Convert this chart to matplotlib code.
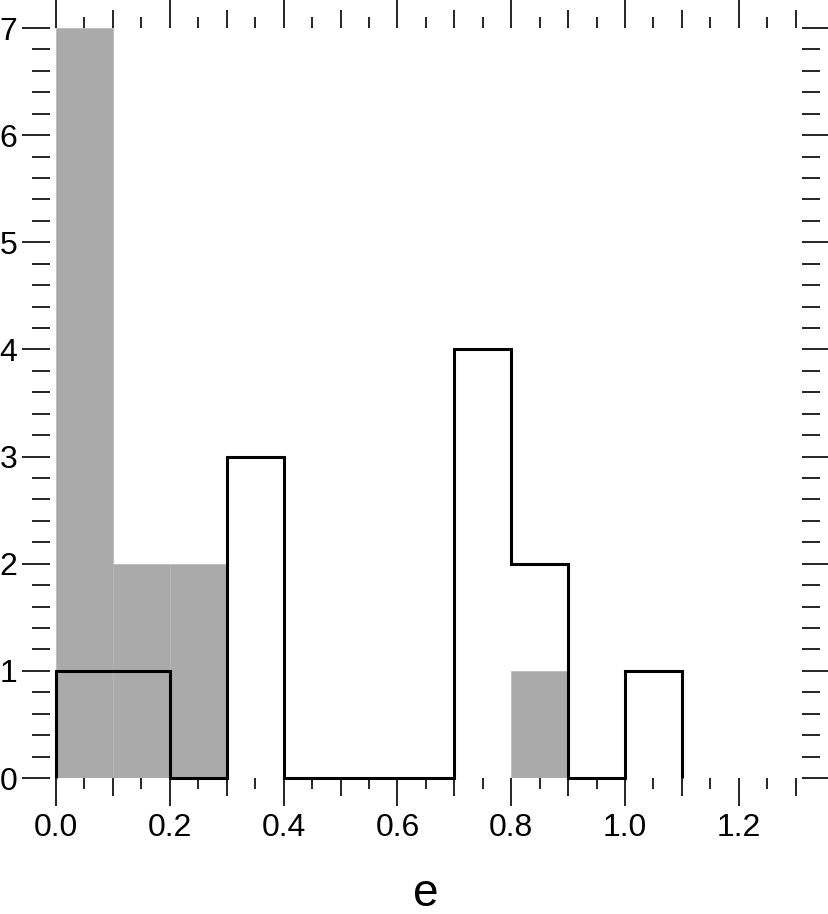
import numpy as np
import matplotlib
matplotlib.use("Agg")
import matplotlib.pyplot as plt
from matplotlib.ticker import MultipleLocator, FixedLocator

plt.rcParams["font.family"] = ["Liberation Sans", "DejaVu Sans"]

# histogram of eccentricity, bins of 0.1
bin_edges = np.round(np.arange(0.0, 1.11, 0.1), 2)
counts_filled = [7, 2, 2, 0, 0, 0, 0, 0, 1, 0, 0]    # grey bars
counts_outline = [1, 1, 0, 3, 0, 0, 0, 4, 2, 0, 1]   # black step outline

fig = plt.figure(figsize=(8.29, 9.14), dpi=100)
ax = fig.add_axes([50 / 829, 1 - 778 / 914, 752 / 829, 750 / 914])

ax.bar(bin_edges[:-1], counts_filled, width=0.1, align="edge",
       color="#aaaaaa", edgecolor="#b5b5b5", linewidth=0.5, zorder=1)
ax.stairs(counts_outline, bin_edges, baseline=0, color="black",
          linewidth=2.2, zorder=3, clip_on=False)

ax.set_xlim(-0.0105, 1.311)
ax.set_ylim(0, 7)

for s in ax.spines.values():
    s.set_visible(False)

# x ticks: long at 0.2, medium at 0.1, short at 0.05 (bottom and top)
xmajor = np.round(np.arange(0.0, 1.31, 0.1), 2)
xminor = np.round(np.arange(0.05, 1.31, 0.1), 2)
ax.xaxis.set_major_locator(FixedLocator(xmajor))
ax.xaxis.set_minor_locator(FixedLocator(xminor))
ax.set_xticklabels([f"{v:.1f}" if round(v * 10) % 2 == 0 else "" for v in xmajor])

ax.yaxis.set_major_locator(MultipleLocator(1))
ax.yaxis.set_minor_locator(MultipleLocator(0.2))

ax.tick_params(which="both", direction="out", top=True, right=True,
               width=1.2, color="black")
ax.tick_params(axis="x", which="major", length=20, pad=5, labelsize=23)
ax.tick_params(axis="x", which="minor", length=8)
ax.tick_params(axis="y", which="major", length=20, pad=3.5, labelsize=23)
ax.tick_params(axis="y", which="minor", length=13)

for v, t in zip(xmajor, ax.xaxis.get_major_ticks()):
    if round(v * 10) % 2 == 1:
        t.tick1line.set_markersize(13)
        t.tick2line.set_markersize(13)

ax.set_xlabel("e", fontsize=33, labelpad=21)

fig.savefig("out.png", dpi=100)
